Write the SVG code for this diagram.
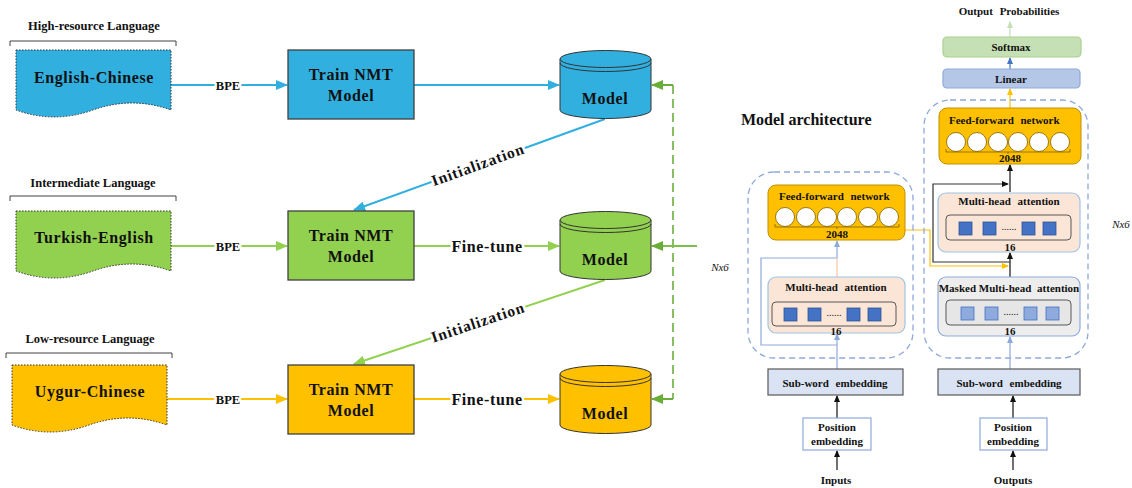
<svg xmlns="http://www.w3.org/2000/svg" width="1132" height="488" viewBox="0 0 1132 488">
<style>
  text { font-family: "Liberation Serif", "Times New Roman", serif; fill: #111; }
  .b { font-weight: bold; }
  .big { font-size: 16px; font-weight: bold; letter-spacing: 0.6px; }
  .lab { font-size: 12.5px; font-weight: bold; }
  .sm { font-size: 11px; font-weight: bold; }
  .ws { word-spacing: 4px; }
  .halo { stroke: #fff; stroke-width: 5; paint-order: stroke; stroke-linejoin: round; }
  .doc { stroke: #333; stroke-width: 1; stroke-dasharray: 1.5 1.5; }
  .box { stroke: #404040; stroke-width: 1.3; }
  .cyl { stroke: #333; stroke-width: 1; }
  .brk { fill: none; stroke: #404040; stroke-width: 1; }
  .wire { fill: none; stroke-width: 2; }
  .thin { fill: none; stroke-width: 1.2; }
  .cont { fill: none; stroke: #8EA9DB; stroke-width: 1.3; stroke-dasharray: 6 4; }
  .ffn { fill: #FFC000; stroke: #C09000; stroke-width: 1; }
  .mha { fill: #FBE5D6; stroke: #9DC3E6; stroke-width: 1.2; }
  .mmha { fill: #EDEDED; stroke: #8EA9DB; stroke-width: 1.2; }
  .inner { stroke: #595959; stroke-width: 1; }
  .sq { fill: #4472C4; stroke: #2F5597; stroke-width: 0.8; }
  .sqL { fill: #8FAADC; stroke: #4472C4; stroke-width: 0.8; }
  .cir { fill: #fff; stroke: #7F6000; stroke-width: 0.8; }
  .emb { fill: #DAE3F3; stroke: #595959; stroke-width: 1.2; }
  .pos { fill: #fff; stroke: #8EA9DB; stroke-width: 1.2; }
</style>
<defs>
  <marker id="aBlue" markerUnits="userSpaceOnUse" markerWidth="12" markerHeight="10" refX="11" refY="5" orient="auto"><path d="M0,0 L12,5 L0,10 Z" fill="#31B0E0"/></marker>
  <marker id="aGreen" markerUnits="userSpaceOnUse" markerWidth="12" markerHeight="10" refX="11" refY="5" orient="auto"><path d="M0,0 L12,5 L0,10 Z" fill="#92D050"/></marker>
  <marker id="aDkGreen" markerUnits="userSpaceOnUse" markerWidth="12" markerHeight="10" refX="11" refY="5" orient="auto"><path d="M0,0 L12,5 L0,10 Z" fill="#6AAE3A"/></marker>
  <marker id="aYellow" markerUnits="userSpaceOnUse" markerWidth="12" markerHeight="10" refX="11" refY="5" orient="auto"><path d="M0,0 L12,5 L0,10 Z" fill="#FFC000"/></marker>
  <marker id="sBlack" markerUnits="userSpaceOnUse" markerWidth="7" markerHeight="6" refX="6" refY="3" orient="auto"><path d="M0,0 L7,3 L0,6 Z" fill="#111"/></marker>
  <marker id="sLBlue" markerUnits="userSpaceOnUse" markerWidth="7" markerHeight="6" refX="6" refY="3" orient="auto"><path d="M0,0 L7,3 L0,6 Z" fill="#8EA9DB"/></marker>
  <marker id="sBlue" markerUnits="userSpaceOnUse" markerWidth="7" markerHeight="6" refX="6" refY="3" orient="auto"><path d="M0,0 L7,3 L0,6 Z" fill="#4472C4"/></marker>
  <marker id="sYellow" markerUnits="userSpaceOnUse" markerWidth="7" markerHeight="6" refX="6" refY="3" orient="auto"><path d="M0,0 L7,3 L0,6 Z" fill="#FFC000"/></marker>
  <marker id="sLGreen" markerUnits="userSpaceOnUse" markerWidth="7" markerHeight="6" refX="6" refY="3" orient="auto"><path d="M0,0 L7,3 L0,6 Z" fill="#C5E0B4"/></marker>
</defs>

<!-- ===== Transfer-learning pipeline (left) ===== -->
<g id="connectors">
  <!-- row 1 -->
  <line class="wire" x1="171" y1="85" x2="287" y2="85" stroke="#31B0E0" marker-end="url(#aBlue)"/>
  <line class="wire" x1="414" y1="85" x2="559" y2="85" stroke="#31B0E0" marker-end="url(#aBlue)"/>
  <line class="wire" x1="605" y1="119" x2="354" y2="210" stroke="#31B0E0" marker-end="url(#aBlue)"/>
  <!-- row 2 -->
  <line class="wire" x1="171" y1="246" x2="287" y2="246" stroke="#92D050" marker-end="url(#aGreen)"/>
  <line class="wire" x1="414" y1="246" x2="559" y2="246" stroke="#92D050" marker-end="url(#aGreen)"/>
  <line class="wire" x1="605" y1="280" x2="354" y2="364" stroke="#92D050" marker-end="url(#aGreen)"/>
  <!-- row 3 -->
  <line class="wire" x1="167" y1="399" x2="287" y2="399" stroke="#FFC000" marker-end="url(#aYellow)"/>
  <line class="wire" x1="414" y1="399" x2="559" y2="399" stroke="#FFC000" marker-end="url(#aYellow)"/>
  <!-- shared dashed feedback -->
  <line x1="673" y1="85" x2="673" y2="399" stroke="#6AAE3A" stroke-width="1.6" stroke-dasharray="9 5"/>
  <line class="wire" x1="673" y1="85" x2="652" y2="85" stroke="#6AAE3A" stroke-width="1.6" marker-end="url(#aDkGreen)"/>
  <line class="wire" x1="673" y1="399" x2="652" y2="399" stroke="#6AAE3A" stroke-width="1.6" marker-end="url(#aDkGreen)"/>
  <line class="wire" x1="697" y1="246" x2="652" y2="246" stroke="#7DBE4A" stroke-width="1.6" marker-end="url(#aDkGreen)"/>
  <!-- edge labels -->
  <text class="lab halo" x="228" y="89.5" text-anchor="middle">BPE</text>
  <text class="lab halo" x="228" y="250.5" text-anchor="middle">BPE</text>
  <text class="lab halo" x="228" y="403.5" text-anchor="middle">BPE</text>
  <text class="big halo" x="487" y="251.5" text-anchor="middle">Fine-tune</text>
  <text class="big halo" x="487" y="404.5" text-anchor="middle">Fine-tune</text>
  <text class="halo" font-size="15.5" font-weight="bold" letter-spacing="0.9" x="478" y="170" text-anchor="middle" transform="rotate(-19.9 478 165)">Initialization</text>
  <text class="halo" font-size="15.5" font-weight="bold" letter-spacing="0.9" x="478" y="327.5" text-anchor="middle" transform="rotate(-18.6 478 322.5)">Initialization</text>
</g>

<g id="high-resource">
  <text class="lab" x="94" y="30" text-anchor="middle">High-resource Language</text>
  <path class="brk" d="M10,46 V41 H176 V46"/>
  <path class="doc" fill="#31B0E0" d="M16,50 H171 V110 Q132,96 93,110 T16,110 Z"/>
  <text class="big" x="94" y="83" text-anchor="middle">English-Chinese</text>
</g>
<g id="train-1">
  <rect class="box" x="288" y="50" width="126" height="69" fill="#31B0E0"/>
  <text class="big" x="351" y="80" text-anchor="middle">Train NMT</text>
  <text class="big" x="351" y="101" text-anchor="middle">Model</text>
</g>
<g id="model-1">
  <path class="cyl" fill="#31B0E0" d="M560,59 V110 A45.5,8.5 0 0 0 651,110 V59 Z"/>
  <ellipse class="cyl" cx="605.5" cy="59" rx="45.5" ry="8.5" fill="#31B0E0"/>
  <path class="cyl" fill="none" d="M560,63 A45.5,8.5 0 0 0 651,63"/>
  <text class="big" x="605" y="104" text-anchor="middle">Model</text>
</g>

<g id="intermediate">
  <text class="lab" x="93" y="187" text-anchor="middle">Intermediate Language</text>
  <path class="brk" d="M10,201 V196 H176 V201"/>
  <path class="doc" fill="#92D050" d="M16,211 H171 V271 Q132,257 93,271 T16,271 Z"/>
  <text class="big" x="94" y="243" text-anchor="middle">Turkish-English</text>
</g>
<g id="train-2">
  <rect class="box" x="288" y="211" width="126" height="69" fill="#92D050"/>
  <text class="big" x="351" y="241" text-anchor="middle">Train NMT</text>
  <text class="big" x="351" y="262" text-anchor="middle">Model</text>
</g>
<g id="model-2">
  <path class="cyl" fill="#92D050" d="M560,220 V271 A45.5,8.5 0 0 0 651,271 V220 Z"/>
  <ellipse class="cyl" cx="605.5" cy="220" rx="45.5" ry="8.5" fill="#92D050"/>
  <path class="cyl" fill="none" d="M560,224 A45.5,8.5 0 0 0 651,224"/>
  <text class="big" x="605" y="265" text-anchor="middle">Model</text>
</g>

<g id="low-resource">
  <text class="lab" x="90" y="343" text-anchor="middle">Low-resource Language</text>
  <path class="brk" d="M6,358 V353 H172 V358"/>
  <path class="doc" fill="#FFC000" d="M12,365 H167 V425 Q128,411 89,425 T12,425 Z"/>
  <text class="big" x="90" y="397" text-anchor="middle">Uygur-Chinese</text>
</g>
<g id="train-3">
  <rect class="box" x="288" y="365" width="126" height="69" fill="#FFC000"/>
  <text class="big" x="351" y="395" text-anchor="middle">Train NMT</text>
  <text class="big" x="351" y="416" text-anchor="middle">Model</text>
</g>
<g id="model-3">
  <path class="cyl" fill="#FFC000" d="M560,374 V425 A45.5,8.5 0 0 0 651,425 V374 Z"/>
  <ellipse class="cyl" cx="605.5" cy="374" rx="45.5" ry="8.5" fill="#FFC000"/>
  <path class="cyl" fill="none" d="M560,378 A45.5,8.5 0 0 0 651,378"/>
  <text class="big" x="605" y="419" text-anchor="middle">Model</text>
</g>

<!-- ===== Transformer architecture (right) ===== -->
<text class="b" font-size="16" x="741" y="125">Model architecture</text>
<text class="sm ws" x="1009" y="15" text-anchor="middle">Output Probabilities</text>
<text font-size="11" font-style="italic" x="720" y="271" text-anchor="middle">Nx6</text>
<text font-size="11" font-style="italic" x="1121" y="228" text-anchor="middle">Nx6</text>

<g id="arch-connectors">
  <!-- encoder -->
  <line class="thin" x1="837" y1="470" x2="837" y2="451" stroke="#111" marker-end="url(#sBlack)"/>
  <line class="thin" x1="837" y1="418" x2="837" y2="396" stroke="#111" marker-end="url(#sBlack)"/>
  <line class="thin" x1="837" y1="369" x2="837" y2="334" stroke="#8EA9DB" marker-end="url(#sLBlue)"/>
  <polyline class="thin" points="837,345 761,345 761,258 837,258" stroke="#8EA9DB"/>
  <line class="thin" x1="837" y1="277" x2="837" y2="258" stroke="#F4C7A8"/>
  <line class="thin" x1="837" y1="258" x2="837" y2="241" stroke="#8EA9DB" marker-end="url(#sLBlue)"/>
  <!-- decoder -->
  <line class="thin" x1="1013" y1="470" x2="1013" y2="451" stroke="#111" marker-end="url(#sBlack)"/>
  <line class="thin" x1="1013" y1="418" x2="1013" y2="396" stroke="#111" marker-end="url(#sBlack)"/>
  <line class="thin" x1="1010" y1="369" x2="1010" y2="337" stroke="#8EA9DB" marker-end="url(#sLBlue)"/>
  <line class="thin" x1="1010" y1="277" x2="1010" y2="253" stroke="#111" marker-end="url(#sBlack)"/>
  <polyline class="thin" points="1010,262 933,262 933,184 1008,184" stroke="#333" marker-end="url(#sBlack)"/>
  <polyline class="thin" points="905,230 930,230 930,266 1008,266" stroke="#FFC000" marker-end="url(#sYellow)"/>
  <line class="thin" x1="1010" y1="192" x2="1010" y2="165" stroke="#111" marker-end="url(#sBlack)"/>
  <line class="thin" x1="1010" y1="108" x2="1010" y2="89" stroke="#FFC000" marker-end="url(#sYellow)"/>
  <line class="thin" x1="1010" y1="69" x2="1010" y2="58" stroke="#4472C4" marker-end="url(#sBlue)"/>
  <line class="thin" x1="1010" y1="37" x2="1010" y2="22" stroke="#C5E0B4" marker-end="url(#sLGreen)"/>
</g>

<g id="encoder">
  <rect class="cont" x="748" y="172" width="165" height="186" rx="26"/>
  <g id="enc-ffn">
    <rect class="ffn" x="768" y="185" width="137" height="55" rx="8"/>
    <text class="sm ws" x="779" y="200">Feed-forward network</text>
    <circle class="cir" cx="785" cy="217" r="9.5"/>
    <circle class="cir" cx="806" cy="217" r="9.5"/>
    <circle class="cir" cx="827" cy="217" r="9.5"/>
    <circle class="cir" cx="847" cy="217" r="9.5"/>
    <circle class="cir" cx="868" cy="217" r="9.5"/>
    <circle class="cir" cx="889" cy="217" r="9.5"/>
    <path fill="none" stroke="#7F6000" stroke-width="0.8" d="M775,224 V227 H899 V224 M837,227 V229"/>
    <text class="sm" x="837" y="238" text-anchor="middle">2048</text>
  </g>
  <g id="enc-mha">
    <rect class="mha" x="768" y="277" width="137" height="56" rx="8"/>
    <text class="sm ws" x="836" y="291" text-anchor="middle">Multi-head attention</text>
    <rect class="inner" x="772" y="302" width="124" height="24" rx="4" fill="#FBE5D6"/>
    <rect class="sq" x="784" y="308" width="13" height="13"/>
    <rect class="sq" x="808" y="308" width="13" height="13"/>
    <rect class="sq" x="847" y="308" width="13" height="13"/>
    <rect class="sq" x="868" y="308" width="13" height="13"/>
    <text font-size="10" x="834" y="316" text-anchor="middle">......</text>
    <text class="sm" x="836" y="335" text-anchor="middle">16</text>
  </g>
  <g id="enc-embedding">
    <rect class="emb" x="768" y="369" width="135" height="26"/>
    <text class="sm ws" x="835" y="387" text-anchor="middle">Sub-word embedding</text>
  </g>
  <g id="enc-position">
    <rect class="pos" x="803" y="418" width="68" height="32"/>
    <text class="sm" x="837" y="431" text-anchor="middle">Position</text>
    <text class="sm" x="837" y="445" text-anchor="middle">embedding</text>
  </g>
  <text class="sm" x="836" y="484" text-anchor="middle">Inputs</text>
</g>

<g id="decoder">
  <rect class="cont" x="924" y="100" width="164" height="258" rx="26"/>
  <g id="dec-ffn">
    <rect class="ffn" x="939" y="108" width="142" height="56" rx="8"/>
    <text class="sm ws" x="949" y="124">Feed-forward network</text>
    <circle class="cir" cx="956" cy="142" r="9.5"/>
    <circle class="cir" cx="977" cy="142" r="9.5"/>
    <circle class="cir" cx="998" cy="142" r="9.5"/>
    <circle class="cir" cx="1018" cy="142" r="9.5"/>
    <circle class="cir" cx="1039" cy="142" r="9.5"/>
    <circle class="cir" cx="1060" cy="142" r="9.5"/>
    <path fill="none" stroke="#7F6000" stroke-width="0.8" d="M946,149 V152 H1070 V149 M1008,152 V154"/>
    <text class="sm" x="1010" y="162" text-anchor="middle">2048</text>
  </g>
  <g id="dec-mha">
    <rect class="mha" x="938" y="193" width="142" height="59" rx="8"/>
    <text class="sm ws" x="1009" y="205" text-anchor="middle">Multi-head attention</text>
    <rect class="inner" x="946" y="215" width="125" height="25" rx="4" fill="#FBE5D6"/>
    <rect class="sq" x="959" y="222" width="13" height="13"/>
    <rect class="sq" x="983" y="222" width="13" height="13"/>
    <rect class="sq" x="1022" y="222" width="13" height="13"/>
    <rect class="sq" x="1043" y="222" width="13" height="13"/>
    <text font-size="10" x="1009" y="230" text-anchor="middle">......</text>
    <text class="sm" x="1010" y="251" text-anchor="middle">16</text>
  </g>
  <g id="dec-masked-mha">
    <rect class="mmha" x="938" y="277" width="142" height="59" rx="8"/>
    <text class="sm" x="1009" y="292" text-anchor="middle">Masked Multi-head <tspan dx="3">attention</tspan></text>
    <rect class="inner" x="946" y="300" width="125" height="25" rx="4" fill="#E7E6E6"/>
    <rect class="sqL" x="961" y="307" width="13" height="13"/>
    <rect class="sqL" x="985" y="307" width="13" height="13"/>
    <rect class="sqL" x="1024" y="307" width="13" height="13"/>
    <rect class="sqL" x="1046" y="307" width="13" height="13"/>
    <text font-size="10" x="1011" y="315" text-anchor="middle">......</text>
    <text class="sm" x="1010" y="335" text-anchor="middle">16</text>
  </g>
  <g id="dec-embedding">
    <rect class="emb" x="938" y="369" width="142" height="26"/>
    <text class="sm ws" x="1009" y="387" text-anchor="middle">Sub-word embedding</text>
  </g>
  <g id="dec-position">
    <rect class="pos" x="980" y="418" width="67" height="32"/>
    <text class="sm" x="1013" y="431" text-anchor="middle">Position</text>
    <text class="sm" x="1013" y="445" text-anchor="middle">embedding</text>
  </g>
  <text class="sm" x="1013" y="484" text-anchor="middle">Outputs</text>
</g>

<g id="linear">
  <rect x="943" y="69" width="137" height="19" rx="4" fill="#B4C7E7" stroke="#8EA9DB" stroke-width="1.2"/>
  <text class="sm" x="1011" y="82.5" text-anchor="middle">Linear</text>
</g>
<g id="softmax">
  <rect x="943" y="37" width="138" height="20" rx="4" fill="#C5E0B4" stroke="#A9D18E" stroke-width="1.2"/>
  <text class="sm" x="1011" y="51" text-anchor="middle">Softmax</text>
</g>
</svg>
